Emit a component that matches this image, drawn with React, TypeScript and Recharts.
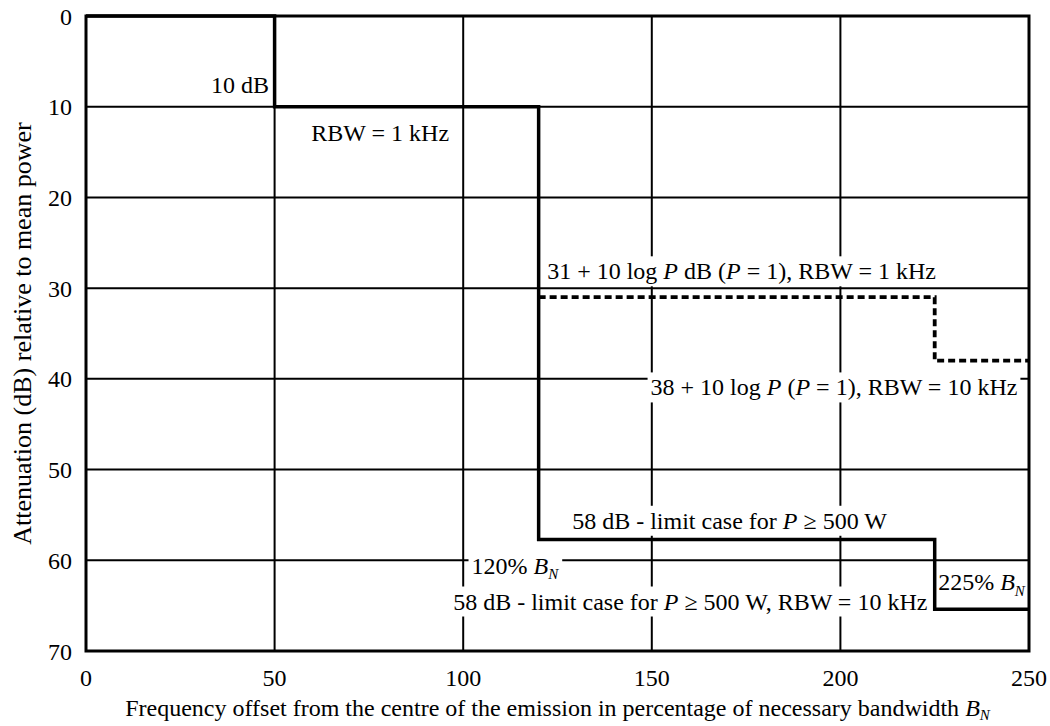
import React, { useLayoutEffect, useRef, useState } from 'react';
import { LineChart, Line, XAxis, YAxis, CartesianGrid, ReferenceArea, ReferenceDot } from 'recharts';

const xTicks = [0, 50, 100, 150, 200, 250];
const yTicks = [0, 10, 20, 30, 40, 50, 60, 70];

// Solid mask: 10 dB step at 50%, 58 dB limit at 120%, 58 dB (RBW 10 kHz) at 225%
const solidX = [0, 50, 50, 120, 120, 225, 225, 250];
const solidY = [0, 0, 10, 10, 57.7, 57.7, 65.4, 65.4];

// Dashed mask: 31 dB at 120%, 38 dB at 225%
const dashX = [120, 225, 225, 250];
const dashY = [31, 31, 38, 38];

type Seg = { t: string; i?: boolean; sub?: boolean };

const labelTexts: Seg[][] = [
  [{ t: '10 dB' }],
  [{ t: 'RBW = 1 kHz' }],
  [{ t: '31 + 10 log ' }, { t: 'P', i: true }, { t: ' dB (' }, { t: 'P', i: true }, { t: ' = 1), RBW = 1 kHz' }],
  [{ t: '38 + 10 log ' }, { t: 'P', i: true }, { t: ' (' }, { t: 'P', i: true }, { t: ' = 1), RBW = 10 kHz' }],
  [{ t: '58 dB - limit case for ' }, { t: 'P', i: true }, { t: ' \u2265 500 W' }],
  [{ t: '120% ' }, { t: 'B', i: true }, { t: 'N', i: true, sub: true }],
  [{ t: '58 dB - limit case for ' }, { t: 'P', i: true }, { t: ' \u2265 500 W, RBW = 10 kHz' }],
  [{ t: '225% ' }, { t: 'B', i: true }, { t: 'N', i: true, sub: true }],
];
const labelX = [40.8, 78.0, 173.8, 198.3, 170.6, 113.7, 160.2, 237.4];
const labelY = [7.6, 12.9, 28.1, 40.9, 55.6, 60.6, 64.5, 62.4];
const labelBg = [false, false, true, true, true, true, true, false];

const xTitle: Seg[] = [
  { t: 'Frequency offset from the centre of the emission in percentage of necessary bandwidth ' },
  { t: 'B', i: true },
  { t: 'N', i: true, sub: true },
];
const yTitle = 'Attenuation (dB) relative to mean power';

const FONT = '"Liberation Serif", "Times New Roman", serif';
const FS = 24;
const FS_Y_TITLE = 26;

const solidData = solidX.map((x, k) => ({ x, y: solidY[k] }));
const dashData = dashX.map((x, k) => ({ x, y: dashY[k] }));

function renderSegs(segs: Seg[], fs: number, shift = 0.3) {
  const out: React.ReactNode[] = [];
  let shifted = false;
  segs.forEach((s, k) => {
    let dy: string | undefined;
    if (s.sub && !shifted) {
      dy = `${shift}em`;
      shifted = true;
    } else if (!s.sub && shifted) {
      dy = `-${shift}em`;
      shifted = false;
    }
    out.push(
      <tspan
        key={k}
        dy={dy}
        fontStyle={s.i ? 'italic' : 'normal'}
        fontSize={s.sub ? Math.round(fs * 0.62) : fs}
      >
        {s.t}
      </tspan>
    );
  });
  return out;
}

function BgText(props: { cx: number; cy: number; segs: Seg[]; bg: boolean }) {
  const { cx, cy, segs, bg } = props;
  const ref = useRef<SVGTextElement>(null);
  const [box, setBox] = useState<{ x: number; y: number; w: number; h: number } | null>(null);
  useLayoutEffect(() => {
    if (ref.current) {
      const b = ref.current.getBBox();
      setBox({ x: b.x, y: b.y, w: b.width, h: b.height });
    }
  }, [cx, cy]);
  return (
    <g>
      {bg && box && (
        <rect x={box.x - 3} y={box.y - 2} width={box.w + 6} height={box.h + 4} fill="#fff" />
      )}
      <text
        ref={ref}
        x={cx}
        y={cy}
        dy="0.35em"
        textAnchor="middle"
        fontFamily={FONT}
        fontSize={FS}
        fill="#000"
      >
        {renderSegs(segs, FS, 0.35)}
      </text>
    </g>
  );
}

export default function App() {
  return (
    <div style={{ position: 'absolute', left: 0, top: 0, background: '#fff' }}>
      <LineChart
        width={1050}
        height={726}
        margin={{ top: 16, right: 21, left: 0, bottom: 0 }}
        style={{ fontFamily: FONT }}
      >
        <CartesianGrid stroke="#000" strokeWidth={2} />
        <XAxis
          dataKey="x"
          type="number"
          domain={[0, 250]}
          ticks={xTicks}
          height={75}
          tickLine={false}
          tickSize={8}
          tickMargin={10}
          axisLine={false}
          tick={{ fill: '#000', fontSize: FS, fontFamily: FONT }}
          interval={0}
          label={{
            content: (p: any) => {
              const vb = p.viewBox || { x: 86, y: 651, width: 943 };
              return (
                <text
                  x={vb.x + vb.width / 2}
                  y={vb.y + 57}
                  dy="0.35em"
                  textAnchor="middle"
                  fontFamily={FONT}
                  fontSize={FS}
                  fill="#000"
                >
                  {renderSegs(xTitle, FS, 0.22)}
                </text>
              );
            },
          }}
        />
        <YAxis
          dataKey="y"
          type="number"
          domain={[0, 70]}
          reversed
          ticks={yTicks}
          width={86}
          tickLine={false}
          tickSize={6}
          tickMargin={8}
          axisLine={false}
          tick={{ fill: '#000', fontSize: FS, fontFamily: FONT }}
          interval={0}
          label={{
            content: (p: any) => {
              const vb = p.viewBox || { x: 0, y: 16, width: 86, height: 635 };
              const cx = 22;
              const cy = vb.y + vb.height / 2;
              return (
                <text
                  x={cx}
                  y={cy}
                  dy="0.35em"
                  textAnchor="middle"
                  transform={`rotate(-90 ${cx} ${cy})`}
                  fontFamily={FONT}
                  fontSize={FS_Y_TITLE}
                  fill="#000"
                >
                  {yTitle}
                </text>
              );
            },
          }}
        />
        {labelTexts.map((segs, k) => (
          <ReferenceDot
            key={k}
            x={labelX[k]}
            y={labelY[k]}
            r={0}
            ifOverflow="visible"
            shape={(p: any) => <BgText cx={p.cx} cy={p.cy} segs={segs} bg={labelBg[k]} />}
          />
        ))}
        <ReferenceArea
          x1={0}
          x2={250}
          y1={0}
          y2={70}
          fill="none"
          fillOpacity={0}
          stroke="#000"
          strokeWidth={3}
          ifOverflow="visible"
        />
        <Line
          data={dashData}
          dataKey="y"
          type="linear"
          stroke="#000"
          strokeWidth={3.8}
          strokeDasharray="7 4"
          dot={false}
          activeDot={false}
          isAnimationActive={false}
        />
        <Line
          data={solidData}
          dataKey="y"
          type="linear"
          stroke="#000"
          strokeWidth={3.5}
          dot={false}
          activeDot={false}
          isAnimationActive={false}
        />
      </LineChart>
    </div>
  );
}
